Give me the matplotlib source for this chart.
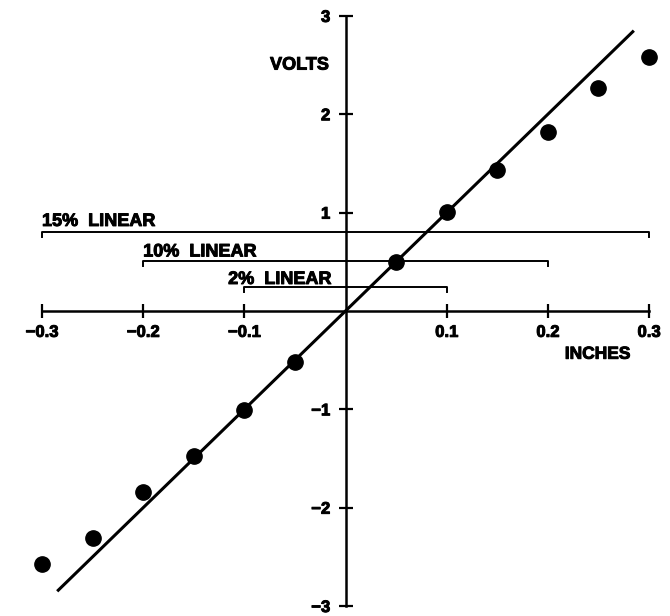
import numpy as np
import matplotlib.pyplot as plt
import matplotlib.patheffects as pe

# measured output (volts) against displacement (inches)
inches = [-0.30, -0.25, -0.20, -0.15, -0.10, -0.05, 0.05, 0.10, 0.15, 0.20, 0.25, 0.30]
volts = [-2.57, -2.31, -1.84, -1.47, -1.01, -0.52, 0.50, 1.01, 1.43, 1.82, 2.27, 2.58]

# ideal response: 10 V per inch
fit_x = [-0.285, 0.285]
slope = 10.0

# linearity ranges: label, half-width (inches), level (volts)
ranges = [("15%  LINEAR", 0.30, 0.80),
          ("10%  LINEAR", 0.20, 0.51),
          ("2%  LINEAR", 0.10, 0.24)]

xticks = [-0.3, -0.2, -0.1, 0.1, 0.2, 0.3]
xtick_labels = ["\u22120.3", "\u22120.2", "\u22120.1", "0.1", "0.2", "0.3"]
yticks = [-3, -2, -1, 1, 2, 3]
ytick_labels = ["\u22123", "\u22122", "\u22121", "1", "2", "3"]

plt.rcParams["font.family"] = ["Liberation Sans", "DejaVu Sans"]
plt.rcParams["font.weight"] = "bold"

# slightly heavier lettering
heavy = [pe.withStroke(linewidth=0.7, foreground="black")]

fig = plt.figure(figsize=(6.7, 6.16), dpi=100)
ax = fig.add_axes([0.0627, 0.0162, 0.906, 0.958])
ax.set_xlim(-0.3, 0.3)
ax.set_ylim(-3, 3)

for side in ["top", "right"]:
    ax.spines[side].set_visible(False)
ax.spines["left"].set_position("zero")
ax.spines["bottom"].set_position("zero")
ax.spines["left"].set_linewidth(1.8)
ax.spines["bottom"].set_linewidth(1.8)

ax.set_xticks(xticks)
ax.set_xticklabels(xtick_labels)
ax.set_yticks(yticks)
ax.set_yticklabels(ytick_labels)
ax.tick_params(axis="both", direction="inout", length=10, width=1.6,
               labelsize=12)
ax.tick_params(axis="x", pad=5)
ax.tick_params(axis="y", pad=6)
for lab in ax.get_xticklabels() + ax.get_yticklabels():
    lab.set_fontweight("bold")
    lab.set_path_effects(heavy)

# straight-line fit
fx = np.array(fit_x)
ax.plot(fx, slope * fx, color="black", lw=2.2, solid_capstyle="butt",
        clip_on=False)

# data points
ax.plot(inches, volts, "o", color="black", markersize=11, clip_on=False)

# linearity brackets
text_pos = [(-0.3, 0.91), (-0.2, 0.60), (-0.116, 0.32)]
for (label, half, level), (tx, ty) in zip(ranges, text_pos):
    hook = 0.05
    ax.plot([-half, -half, half, half],
            [level - hook, level, level, level - hook],
            color="black", lw=1.4, clip_on=False)
    ax.text(tx, ty, label, ha="left", va="center",
            fontsize=13, fontweight="bold", path_effects=heavy)

ax.text(-0.0455, 2.50, "VOLTS", ha="center", va="center",
        fontsize=13, fontweight="bold", path_effects=heavy)
ax.text(0.249, -0.44, "INCHES", ha="center", va="center",
        fontsize=12.5, fontweight="bold", path_effects=heavy)

fig.savefig("out.png", dpi=100)
